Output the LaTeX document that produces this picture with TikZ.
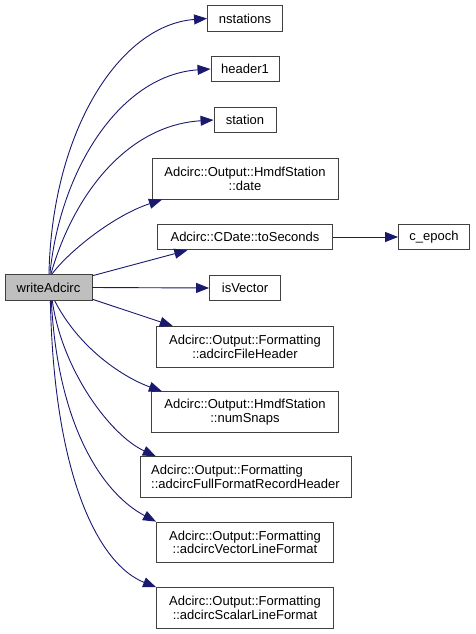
\documentclass[tikz,border=0pt]{standalone}
\usepackage{fontspec}
\setmainfont{Liberation Sans}
\usepackage{xcolor}
\usepackage{tikz}
\usetikzlibrary{arrows.meta}
\definecolor{dxedge}{RGB}{25,25,112}
\definecolor{dxroot}{RGB}{191,191,191}
\definecolor{dxline}{RGB}{64,64,64}
\tikzset{
  fn/.style={draw=dxline, fill=white, line width=0.9pt, inner sep=0pt, align=center,
    font=\fontsize{13}{13.4}\selectfont, minimum height=25.7pt},
  fnwide/.style={fn, minimum height=40.5pt},
  fnroot/.style={fn, fill=dxroot},
  call/.style={-{Triangle[length=13pt,width=10pt]}, draw=dxedge, line width=0.9pt},
}

\begin{document}
\begin{tikzpicture}[x=1pt, y=-1pt]
  \useasboundingbox (0,0) rectangle (475,634);
  \node[fnroot, minimum width=87pt] (wa) at (48.5,287.5) {writeAdcirc};
  % one-line callees
  \foreach \name/\y/\w/\txt in {nst/18.5/75/nstations, hdr/69/68/header1,
                                stn/120/62/station, tosec/237/175/{Adcirc::CDate::toSeconds},
                                isvec/288/71/isVector}
    \node[fn, minimum width=\w pt] (\name) at (245,\y) {\txt};
  \node[fn, minimum width=71pt] (cep) at (434,237) {c\_epoch};
  % two-line callees
  \foreach \name/\y/\w/\txt in {date/179/186/{Adcirc::Output::HmdfStation\\::date},
                                fhdr/346.7/177/{Adcirc::Output::Formatting\\::adcircFileHeader},
                                nsnap/412/187/{Adcirc::Output::HmdfStation\\::numSnaps},
                                vlf/542.3/177/{Adcirc::Output::Formatting\\::adcircVectorLineFormat},
                                slf/607.8/177/{Adcirc::Output::Formatting\\::adcircScalarLineFormat}}
    \node[fnwide, minimum width=\w pt] (\name) at (245,\y) {\txt};
  \node[fnwide, minimum width=211pt, align=left] (ffrh) at (245.5,477)
    {Adcirc::Output::Formatting\\::adcircFullFormatRecordHeader};

  \draw[call] (wa.88) .. controls (52,130) and (120,25) .. (nst.west);
  \draw[call] (wa.84) .. controls (60,170) and (120,75) .. (hdr.west);
  \draw[call] (wa.80) .. controls (75,190) and (130,125) .. (stn.west);
  \draw[call] (wa.76) .. controls (70,250) and (115,215) .. (date.194);
  \draw[call] (wa.15) -- (tosec.193);
  \draw[call] (wa.east) -- (isvec.west);
  \draw[call] (wa.-15) -- (fhdr.164);
  \draw[call] (wa.-65) .. controls (80,350) and (125,378) .. (nsnap.166);
  \draw[call] (wa.-74) .. controls (62,370) and (110,435) .. (ffrh.167);
  \draw[call] (wa.-78) .. controls (58,430) and (105,495) .. (vlf.north west);
  \draw[call] (wa.-82) .. controls (54,480) and (100,565) .. (slf.north west);
  \draw[call] (tosec.east) -- (cep.west);
\end{tikzpicture}
\end{document}
